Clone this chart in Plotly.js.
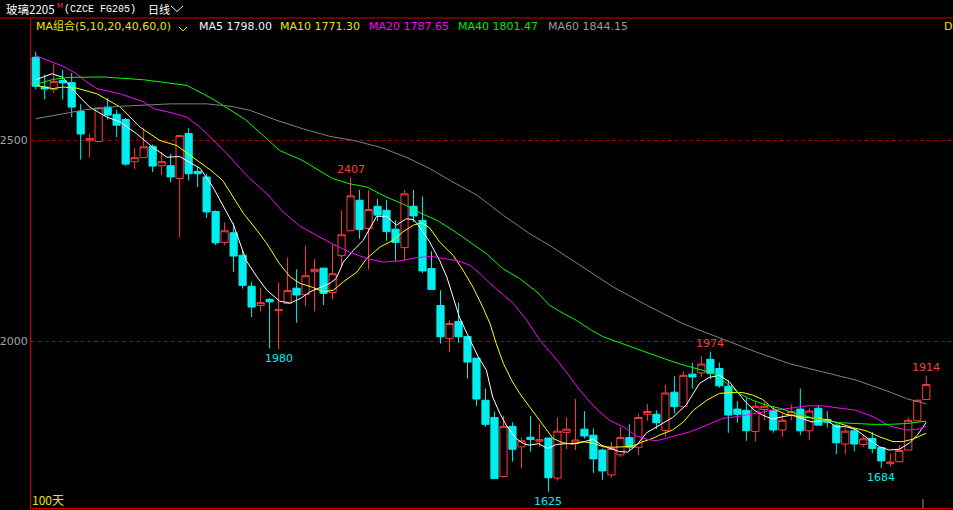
<!DOCTYPE html>
<html><head><meta charset="utf-8">
<script src="https://cdn.plot.ly/plotly-3.0.1.min.js"></script>
<style>html,body{margin:0;padding:0;background:#000;overflow:hidden}#chart{width:953px;height:510px}</style>
</head><body><div id="chart"></div>
<script>
// ---- candle data (100 trading days) ----
const openP  = [2707,2633,2627,2649,2644,2572,2499,2497,2583,2565,2552,2447,2457,2485,2437,2437,2405,2517,2423,2409,
                2323,2246,2270,2214,2137,2089,2104,2076,2094,2132,2116,2173,2182,2121,2213,2275,2351,2281,2336,2326,
                2279,2233,2336,2301,2181,2089,2007,2049,2012,1958,1853,1810,1663,1788,1737,1761,1751,1759,1659,1773,
                1747,1781,1766,1729,1667,1717,1760,1736,1818,1818,1778,1873,1837,1918,1921,1955,1932,1888,1831,1828,
                1775,1830,1828,1779,1816,1831,1777,1833,1805,1791,1744,1777,1743,1758,1735,1695,1700,1729,1802,1855];
const highP  = [2721,2664,2691,2676,2668,2590,2517,2583,2606,2576,2556,2480,2532,2490,2472,2467,2513,2530,2434,2417,
                2326,2296,2294,2226,2148,2133,2108,2146,2208,2179,2238,2204,2182,2241,2326,2407,2377,2376,2355,2351,
                2301,2376,2377,2360,2224,2127,2052,2096,2012,1958,1882,1825,1814,1798,1760,1814,1795,1759,1810,1810,
                1856,1826,1783,1733,1749,1786,1793,1820,1843,1828,1891,1913,1925,1946,1963,1974,1947,1903,1851,1859,
                1851,1847,1838,1820,1843,1882,1833,1841,1826,1799,1783,1783,1767,1774,1735,1720,1741,1810,1855,1914];
const lowP   = [2627,2602,2618,2602,2558,2452,2457,2496,2552,2508,2437,2429,2457,2421,2414,2396,2258,2400,2384,2307,
                2239,2239,2172,2131,2060,2074,1982,1980,2093,2046,2088,2074,2090,2104,2185,2275,2255,2178,2299,2250,
                2200,2201,2297,2170,2129,1994,1973,1996,1907,1839,1787,1658,1661,1700,1683,1725,1737,1625,1653,1731,
                1729,1758,1672,1654,1660,1712,1729,1716,1802,1781,1762,1820,1837,1882,1911,1905,1884,1772,1797,1752,
                1750,1803,1772,1762,1803,1766,1754,1791,1785,1719,1719,1726,1737,1721,1684,1687,1700,1729,1802,1855];
const closeP = [2635,2628,2647,2643,2583,2516,2505,2581,2563,2538,2441,2457,2484,2436,2447,2409,2512,2417,2417,2322,
                2245,2275,2212,2139,2085,2096,2098,2079,2126,2115,2163,2179,2119,2168,2265,2362,2278,2328,2314,2273,
                2246,2367,2312,2175,2129,2011,2044,2011,1948,1856,1793,1658,1788,1731,1752,1755,1755,1660,1776,1781,
                1754,1764,1707,1677,1733,1760,1736,1810,1825,1797,1871,1837,1915,1911,1943,1920,1889,1816,1818,1777,
                1838,1838,1779,1803,1825,1777,1826,1791,1798,1747,1776,1744,1757,1733,1702,1699,1728,1803,1853,1892];

// ---- moving-average lines (x = day index) ----
const ma5Idx = [0,1.8,3,4.6,6,7.9,9.4,11.2,13,14.6,16,17.5,18.3,19.7,20.5,22,23.4,24.6,25.7,27.1,28.3,29.4,30.5,31.6,32.7,33.4,34.2,35.3,36.4,37.9,39,40.1,41.2,42,42.7,43.8,44.9,45.7,46.4,47.1,48.3,49.2,50.1,50.8,51.6,52.3,53.4,54.2,54.9,55.9,56.9,57.9,59,60.1,61,62,62.9,63.8,64.9,65.8,66.8,67.9,69,70.8,72.3,73.8,74.9,76,77.1,78.2,78.9,79.9,80.8,81.9,83,84.1,85.2,86.3,87.9,89,90.1,91.2,92.7,93.8,94.9,96,97.1,98,99];
const ma5Val = [2651,2666,2657,2615,2583,2558,2546,2517,2483,2458,2460,2441,2430,2384,2350,2289,2201,2160,2127,2100,2095,2106,2123,2134,2144,2156,2197,2226,2251,2311,2311,2289,2305,2303,2284,2247,2201,2160,2110,2060,2002,1961,1928,1861,1820,1791,1758,1745,1741,1745,1733,1743,1745,1745,1750,1756,1741,1733,1725,1724,1741,1772,1787,1810,1841,1895,1910,1915,1899,1870,1849,1828,1816,1806,1812,1816,1808,1799,1803,1787,1787,1780,1754,1737,1729,1731,1746,1766,1798];
const ma10Idx = [0,1.9,3,4.6,6.8,9.4,11.6,13.8,15.7,17.9,19.5,20.8,22,23.1,24.6,25.7,27.1,28.3,29.4,30.8,32,33.1,34.2,35.7,36.8,38.3,39.7,40.8,42,42.9,43.8,44.9,46.4,47.5,48.6,49.7,50.5,51.2,52,52.9,53.8,54.9,56,56.8,57.5,58.6,59.7,60.8,62,63.1,64.2,65.3,66.4,67.5,68.6,69.3,70.8,72,73.1,74.6,76,77.1,78.6,79.7,80.8,81.9,83.4,84.9,86.4,87.9,89.4,90.8,92.3,93.8,95.3,96.4,97.5,99];
const ma10Val = [2637,2629,2633,2630,2616,2583,2533,2500,2487,2450,2425,2400,2359,2318,2276,2243,2193,2160,2144,2134,2123,2127,2148,2172,2206,2235,2251,2272,2289,2295,2282,2247,2214,2177,2135,2085,2044,1994,1944,1903,1870,1837,1803,1779,1758,1747,1744,1750,1746,1737,1736,1737,1739,1750,1758,1766,1779,1799,1828,1853,1870,1872,1872,1866,1855,1833,1818,1812,1808,1805,1795,1785,1777,1762,1750,1750,1756,1771];
const ma20Idx = [0,1.9,3,4.4,5.7,6.8,7.9,9.4,12,13.1,14.9,16.8,18.3,19.7,21.3,22.7,23.8,25.7,27.5,29.4,31.2,33.1,34.9,36.8,38.6,40.5,42.3,44,45.3,46.8,48.3,49.4,50.5,51.6,53.1,54.6,56,57.1,58.2,59.4,60.5,61.6,62.7,63.8,65.3,66.8,67.9,69,70.8,72.7,74.6,76.4,78.2,80.1,81.9,83.8,85.7,87.5,89.4,91.2,93.1,94.9,96.8,97.9,99];
const ma20Val = [2711,2695,2685,2668,2645,2629,2624,2616,2596,2579,2570,2558,2532,2500,2466,2431,2405,2367,2322,2286,2264,2241,2222,2206,2197,2200,2208,2211,2206,2201,2189,2168,2144,2123,2094,2052,2004,1975,1946,1911,1878,1849,1824,1803,1787,1764,1756,1752,1762,1774,1791,1808,1813,1820,1828,1833,1839,1839,1833,1828,1812,1789,1779,1780,1788];
const ma40Idx = [0,1.9,3.8,7.5,12,16.8,19.7,21.5,23.3,25.7,27.1,29.5,31.2,33,34.9,36.8,39,41.2,42.7,44.6,46.4,48.3,50.1,51.9,53.8,55.7,57.1,58.2,60.1,61.8,63.1,65.7,67.1,69.3,71.5,73.4,75.3,76.8,78.2,79.7,81.2,82.7,84.2,85.7,87.5,89.4,91.2,93.1,94.9,96.8,99];
const ma40Val = [2639,2652,2657,2658,2651,2637,2603,2578,2552,2504,2475,2452,2430,2405,2392,2384,2359,2338,2320,2301,2276,2247,2218,2181,2156,2123,2090,2075,2052,2027,2011,1990,1978,1961,1944,1932,1920,1895,1870,1853,1841,1833,1822,1813,1803,1797,1795,1793,1793,1795,1801];
const ma60Idx = [0,2.7,5.7,9.4,15,19,21.7,23.8,26.8,29.7,32.7,35.3,38.3,41.2,43.8,46.1,49.1,52,54.9,57.1,60.8,64.2,67.9,71.9,76.4,80.1,83.8,87.5,91.2,94.9,96.8,99];
const ma60Val = [2554,2565,2577,2585,2591,2591,2585,2575,2550,2529,2510,2500,2483,2458,2430,2400,2363,2313,2268,2239,2185,2135,2090,2044,2005,1973,1944,1924,1903,1874,1857,1844];

// ---- texts ----
const maNames = ['MA5','MA10','MA20','MA40','MA60'];
const maLast  = ['1798.00','1771.30','1787.65','1801.47','1844.15'];
const yTicks  = [2000, 2500];
const markIdx  = [27, 35, 57, 75, 94, 99];
const markSide = ['low','high','low','high','low','high'];
const sepIdx = 98.63;

// ---- styling / layout ----
const W = 953, H = 510, ML = 31, MR = 0, MT = 18, MB = 2;
const PW = W - ML - MR, PH = H - MT - MB;
const px = x => (x - ML) / PW;
const py = y => (H - MB - y) / PH;
const RED = '#ff3c3c', CYAN = '#00eeee', AXRED = '#cc0000', YEL = '#e6e600';
const maColors = ['#ffffff', '#ffff00', '#ff00ff', '#00ff00', '#808080'];
const maTextColors = ['#eef4ff', YEL, '#ff00ff', '#00e600', '#9a9a9a'];
const maTextX = [198, 279, 368, 457, 547];

const days = openP.map((_, i) => i);

const traces = [{
  type: 'candlestick', x: days, open: openP, high: highP, low: lowP, close: closeP,
  increasing: { line: { color: RED, width: 1 }, fillcolor: '#000000' },
  decreasing: { line: { color: CYAN, width: 1 }, fillcolor: CYAN },
  whiskerwidth: 0, hoverinfo: 'skip', showlegend: false
}];
const maX = [ma5Idx, ma10Idx, ma20Idx, ma40Idx, ma60Idx];
const maY = [ma5Val, ma10Val, ma20Val, ma40Val, ma60Val];
maX.forEach((xs, k) => traces.push({
  type: 'scatter', mode: 'lines', x: xs, y: maY[k],
  line: { color: maColors[k], width: 1 }, hoverinfo: 'skip', showlegend: false
}));

const ann = [];
function txt(x, y, text, color, size, family, anchor) {
  ann.push({ xref: 'paper', yref: 'paper', x: px(x), y: py(y), xanchor: anchor || 'left', yanchor: 'middle',
    text: text, showarrow: false, borderpad: 0, font: { family: family, size: size, color: color } });
}
const CJK = 'Noto Sans CJK SC';
txt(5, 9, '玻璃2205', '#ffffff', 11.5, CJK);
txt(56, 5.5, 'M', RED, 7, 'DejaVu Sans');
txt(63, 9, '(CZCE FG205)', '#ffffff', 10, 'Liberation Mono');
txt(147, 9, '日线', '#ffffff', 11, CJK);
txt(35, 26.5, 'MA组合(5,10,20,40,60,0)', YEL, 11, 'DejaVu Sans, ' + CJK);
maNames.forEach((n, k) => txt(maTextX[k], 26.5, n + ' ' + maLast[k], maTextColors[k], 11, 'DejaVu Sans'));
txt(943, 26.5, 'De', YEL, 11, 'DejaVu Sans');
txt(31, 499, '100天', YEL, 12, CJK);

markIdx.forEach((i, k) => {
  const hi = markSide[k] === 'high';
  const v = hi ? highP[i] : lowP[i];
  ann.push({ xref: 'x', yref: 'y', x: i, y: v, text: String(v), showarrow: false, borderpad: 0,
    xanchor: 'center', yanchor: hi ? 'bottom' : 'top', yshift: hi ? 1 : -2,
    font: { family: 'DejaVu Sans', size: 11, color: hi ? RED : CYAN } });
});

const shapes = [
  { type: 'line', xref: 'paper', yref: 'paper', x0: px(0), x1: px(W), y0: py(18), y1: py(18), line: { color: AXRED, width: 1 } },
  { type: 'line', xref: 'x', yref: 'paper', x0: sepIdx, x1: sepIdx, y0: py(508), y1: py(499), line: { color: '#909090', width: 1 } },
  { type: 'path', xref: 'paper', yref: 'paper', path: `M ${px(171)} ${py(6)} L ${px(177)} ${py(11.5)} L ${px(183)} ${py(6)}`, line: { color: '#ffffff', width: 1 } },
  { type: 'path', xref: 'paper', yref: 'paper', path: `M ${px(179)} ${py(27)} L ${px(183)} ${py(31)} L ${px(187)} ${py(27)}`, line: { color: YEL, width: 1 } }
];

const layout = {
  width: W, height: H, margin: { l: ML, r: MR, t: MT, b: MB, pad: 0 },
  paper_bgcolor: '#000000', plot_bgcolor: '#000000', showlegend: false,
  boxgap: 0.2, boxgroupgap: 0, hovermode: false,
  xaxis: { range: [-0.522, 101.97], showgrid: false, zeroline: false, showticklabels: false, ticks: '',
    showline: true, linecolor: AXRED, linewidth: 1, rangeslider: { visible: false }, fixedrange: true },
  yaxis: { range: [1584.7, 2804.8], tickvals: yTicks, ticktext: yTicks.map(String), ticks: '',
    showgrid: true, gridcolor: '#a00000', griddash: '4px,3px', gridwidth: 1, zeroline: false,
    showline: true, linecolor: AXRED, linewidth: 1, fixedrange: true,
    tickfont: { family: 'DejaVu Sans', size: 11, color: '#a0a4a8' } },
  annotations: ann, shapes: shapes
};
Plotly.newPlot('chart', traces, layout, { displayModeBar: false, staticPlot: true });
</script></body></html>
